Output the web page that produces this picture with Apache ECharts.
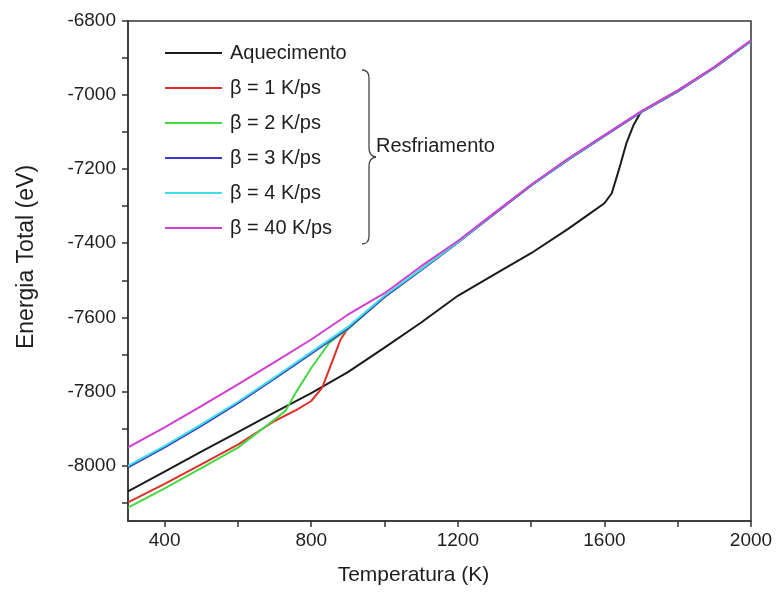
<!DOCTYPE html>
<html>
<head>
<meta charset="utf-8">
<style>
  html, body { margin: 0; padding: 0; background: #fff; }
  #chart { width: 776px; height: 595px; }
</style>
<script src="https://cdn.jsdelivr.net/npm/echarts@6/dist/echarts.min.js"></script>
</head>
<body>
<div id="chart"></div>
<script>
// eixo x: temperatura (K)
const xTicks = [400, 600, 800, 1000, 1200, 1400, 1600, 1800, 2000];
const xLabels = [400, 800, 1200, 1600, 2000];
// eixo y: energia total (eV)
const yTicks = [-8100, -8000, -7900, -7800, -7700, -7600, -7500, -7400, -7300, -7200, -7100, -7000, -6900, -6800];
const yLabels = [-8000, -7800, -7600, -7400, -7200, -7000, -6800];

const seriesNames = ['Aquecimento', 'β = 1 K/ps', 'β = 2 K/ps', 'β = 3 K/ps', 'β = 4 K/ps', 'β = 40 K/ps'];
const seriesColors = ['#1b1b1b', '#e0302a', '#45d845', '#3a3ac4', '#3fdde6', '#d03fd3'];

// Aquecimento
const heatT = [300, 400, 500, 600, 700, 800, 900, 1000, 1100, 1200, 1300, 1400, 1500, 1560, 1600, 1620, 1640, 1660, 1680, 1700, 1800, 1900, 2000];
const heatE = [-8070, -8017, -7963, -7910, -7857, -7805, -7748, -7682, -7614, -7542, -7484, -7427, -7362, -7320, -7292, -7265, -7200, -7130, -7080, -7045, -6988, -6926, -6854];

// β = 1 K/ps
const b1T = [300, 400, 500, 600, 700, 760, 800, 830, 860, 880, 900, 1000, 1100, 1200, 1300, 1400, 1500, 1600, 1700, 1800, 1900, 2000];
const b1E = [-8100, -8050, -7997, -7944, -7880, -7850, -7826, -7790, -7712, -7660, -7630, -7545, -7472, -7398, -7320, -7244, -7175, -7110, -7046, -6990, -6926, -6854];

// β = 2 K/ps
const b2T = [300, 400, 500, 600, 700, 730, 760, 800, 850, 900, 1000, 1100, 1200, 1300, 1400, 1500, 1600, 1700, 1800, 1900, 2000];
const b2E = [-8114, -8062, -8007, -7952, -7876, -7852, -7800, -7737, -7668, -7632, -7545, -7472, -7398, -7320, -7244, -7175, -7110, -7046, -6990, -6926, -6854];

// β = 3 K/ps
const b3T = [300, 400, 500, 600, 700, 800, 900, 1000, 1100, 1200, 1300, 1400, 1500, 1600, 1700, 1800, 1900, 2000];
const b3E = [-8005, -7951, -7893, -7832, -7766, -7698, -7630, -7545, -7472, -7398, -7320, -7244, -7175, -7110, -7046, -6990, -6926, -6854];

// β = 4 K/ps
const b4T = [300, 400, 500, 600, 700, 800, 900, 1000, 1100, 1200, 1300, 1400, 1500, 1600, 1700, 1800, 1900, 2000];
const b4E = [-8001, -7947, -7889, -7828, -7762, -7694, -7626, -7542, -7470, -7397, -7319, -7243, -7174, -7109, -7045, -6989, -6925, -6853];

// β = 40 K/ps
const b40T = [300, 400, 500, 600, 700, 800, 900, 1000, 1100, 1200, 1300, 1400, 1500, 1600, 1700, 1800, 1900, 2000];
const b40E = [-7951, -7897, -7840, -7781, -7721, -7660, -7593, -7535, -7462, -7394, -7318, -7242, -7172, -7108, -7044, -6988, -6924, -6852];

const allT = [heatT, b1T, b2T, b3T, b4T, b40T];
const allE = [heatE, b1E, b2E, b3E, b4E, b40E];

const font = '"Liberation Sans", Arial, sans-serif';
const axisColor = '#333';
const textColor = '#1e1e1e';

const chart = echarts.init(document.getElementById('chart'));

// chave "}" do grupo Resfriamento
const braceStyle = { stroke: '#444', lineWidth: 1.3, fill: 'none' };

const option = {
  backgroundColor: '#fff',
  animation: false,
  grid: {
    left: 128,
    right: 25,
    top: 21,
    bottom: 74,
    show: true,
    borderColor: axisColor,
    borderWidth: 1.5,
  },
  legend: {
    orient: 'vertical',
    left: 160,
    top: 38,
    icon: 'rect',
    itemWidth: 57,
    itemHeight: 2,
    itemGap: 15,
    data: seriesNames,
    textStyle: {
      fontFamily: font,
      fontSize: 20,
      color: textColor,
      padding: [0, 0, 0, 3],
    },
  },
  xAxis: {
    type: 'value',
    min: 300,
    max: 2000,
    name: 'Temperatura (K)',
    nameLocation: 'middle',
    nameGap: 44,
    nameTextStyle: { fontFamily: font, fontSize: 21, color: textColor, padding: [0, 52, 0, 0] },
    axisLine: { onZero: false, lineStyle: { color: axisColor, width: 1.5 } },
    axisTick: { customValues: xTicks, length: 6, lineStyle: { color: axisColor, width: 1.5 } },
    axisLabel: {
      customValues: xLabels,
      formatter: (v) => String(v),
      fontFamily: font, fontSize: 19, color: textColor, margin: 10,
    },
    splitLine: { show: false },
  },
  yAxis: {
    type: 'value',
    min: -8150,
    max: -6800,
    name: 'Energia Total (eV)',
    nameLocation: 'middle',
    nameGap: 90,
    nameTextStyle: { fontFamily: font, fontSize: 23, color: textColor, padding: [0, 0, 0, 28] },
    axisLine: { onZero: false, lineStyle: { color: axisColor, width: 1.5 } },
    axisTick: { customValues: yTicks, length: 6, lineStyle: { color: axisColor, width: 1.5 } },
    axisLabel: {
      customValues: yLabels,
      formatter: (v) => String(v),
      fontFamily: font, fontSize: 19, color: textColor, margin: 12,
    },
    splitLine: { show: false },
  },
  graphic: [
    {
      type: 'bezierCurve',
      shape: { x1: 362, y1: 70, x2: 369, y2: 78, cpx1: 369, cpy1: 70 },
      style: braceStyle, z: 100,
    },
    {
      type: 'line',
      shape: { x1: 369, y1: 78, x2: 369, y2: 148 },
      style: braceStyle, z: 100,
    },
    {
      type: 'bezierCurve',
      shape: { x1: 369, y1: 148, x2: 376, y2: 157, cpx1: 369, cpy1: 156 },
      style: braceStyle, z: 100,
    },
    {
      type: 'bezierCurve',
      shape: { x1: 376, y1: 157, x2: 369, y2: 166, cpx1: 369, cpy1: 158 },
      style: braceStyle, z: 100,
    },
    {
      type: 'line',
      shape: { x1: 369, y1: 166, x2: 369, y2: 236 },
      style: braceStyle, z: 100,
    },
    {
      type: 'bezierCurve',
      shape: { x1: 369, y1: 236, x2: 362, y2: 244, cpx1: 369, cpy1: 244 },
      style: braceStyle, z: 100,
    },
    {
      type: 'text',
      left: 376,
      top: 136,
      style: {
        text: 'Resfriamento',
        font: '20px "Liberation Sans", Arial, sans-serif',
        fill: textColor,
      },
      z: 100,
    },
  ],
  series: seriesNames.map((name, i) => ({
    name: name,
    type: 'line',
    symbol: 'none',
    data: allT[i].map((t, j) => [t, allE[i][j]]),
    lineStyle: { color: seriesColors[i], width: 2 },
    itemStyle: { color: seriesColors[i] },
    z: 2 + i,
  })),
};

chart.setOption(option);
</script>
</body>
</html>
